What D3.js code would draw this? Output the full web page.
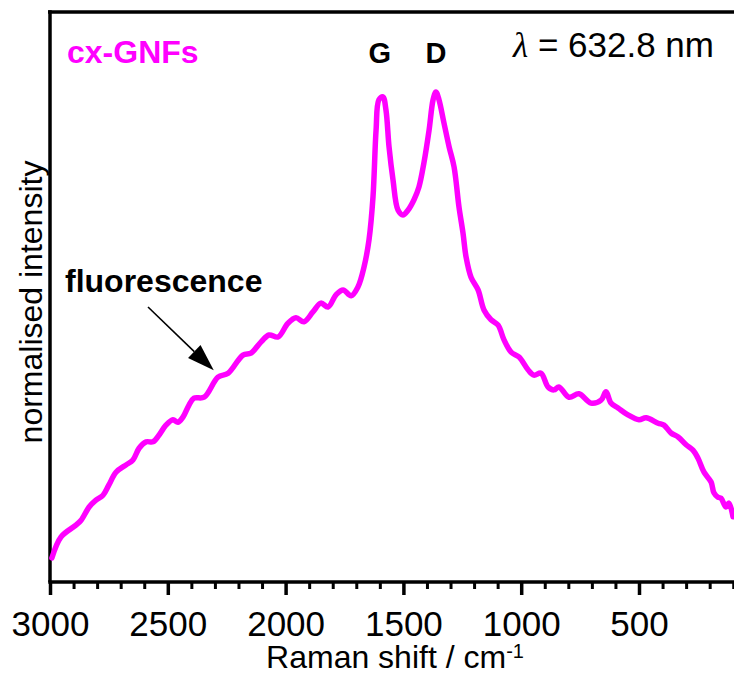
<!DOCTYPE html>
<html>
<head>
<meta charset="utf-8">
<script src="https://cdn.jsdelivr.net/npm/d3@7"></script>
<style>
  body { margin: 0; background: #fff; }
  svg { display: block; }
  text { font-family: "Liberation Sans", Arial, sans-serif; fill: #000; }
</style>
</head>
<body>
<svg id="chart" width="734" height="675"></svg>
<script>
// Raman spectrum of cx-GNFs (632.8 nm excitation), normalised intensity
const wavenumber = [
  2992, 2953, 2890, 2868, 2834, 2805, 2775, 2750, 2720, 2677,
  2648, 2622, 2592, 2563, 2537, 2508, 2478, 2457, 2435, 2410,
  2389, 2346, 2287, 2244, 2181, 2147, 2104, 2070, 2032, 1990,
  1956, 1922, 1884, 1850, 1820, 1786, 1756, 1722, 1693, 1667,
  1646, 1629, 1616, 1604, 1587, 1574, 1561, 1544, 1523, 1502,
  1480, 1455, 1434, 1413, 1391, 1374, 1362, 1349, 1328, 1306,
  1285, 1264, 1247, 1234, 1213, 1183, 1158, 1128, 1098, 1073,
  1043, 1009, 971, 946, 916, 886, 861, 840, 797, 755,
  704, 661, 640, 619, 589, 547, 500, 470, 419, 394,
  364, 334, 300, 271, 250, 224, 194, 182, 165, 152,
  131, 118, 101
];
const intensity = [
  0.045, 0.088, 0.112, 0.122, 0.149, 0.163, 0.173, 0.194, 0.220, 0.235,
  0.245, 0.269, 0.282, 0.282, 0.296, 0.316, 0.327, 0.322, 0.333, 0.357,
  0.371, 0.373, 0.414, 0.422, 0.459, 0.463, 0.486, 0.500, 0.496, 0.524,
  0.535, 0.527, 0.547, 0.565, 0.557, 0.582, 0.592, 0.580, 0.598, 0.639,
  0.694, 0.782, 0.918, 0.980, 0.986, 0.959, 0.884, 0.816, 0.755, 0.745,
  0.755, 0.776, 0.802, 0.851, 0.918, 0.980, 0.996, 0.980, 0.933, 0.884,
  0.843, 0.761, 0.708, 0.659, 0.618, 0.592, 0.551, 0.531, 0.520, 0.490,
  0.465, 0.455, 0.429, 0.418, 0.422, 0.394, 0.388, 0.394, 0.373, 0.380,
  0.361, 0.367, 0.384, 0.361, 0.351, 0.337, 0.327, 0.331, 0.320, 0.316,
  0.300, 0.292, 0.276, 0.265, 0.249, 0.220, 0.200, 0.178, 0.169, 0.167,
  0.149, 0.157, 0.129
];

const majorTicks = [3000, 2500, 2000, 1500, 1000, 500];
const minorTicks = d3.range(2900, 99, -100).filter(v => v % 500 !== 0);

const peakNames = ["G", "D"];
const peakShifts = [1600, 1362];

// arrow pointing at the fluorescence background: [shift, intensity]
const arrowFrom = [2584, 0.557];
const arrowTo = [2305, 0.428];

const svg = d3.select("#chart");
const W = 734, H = 675;
const plotLeft = 50, plotTop = 12, plotBottom = 582;

const x = d3.scaleLinear().domain([3000, 90]).range([plotLeft, plotLeft + 2910 * 0.2356]);
const y = d3.scaleLinear().domain([-0.004, 1.159]).range([plotBottom, plotTop]);

// frame: top and left lines
svg.append("line")
  .attr("x1", plotLeft - 2).attr("x2", W).attr("y1", plotTop).attr("y2", plotTop)
  .attr("stroke", "#000").attr("stroke-width", 3.5);
svg.append("line")
  .attr("x1", plotLeft).attr("x2", plotLeft).attr("y1", plotTop - 1.75).attr("y2", plotBottom)
  .attr("stroke", "#000").attr("stroke-width", 3.5);

// bottom axis, minor ticks
const minorAxis = d3.axisBottom(x).tickValues(minorTicks).tickSize(7).tickFormat("").tickSizeOuter(0);
const gMinor = svg.append("g").attr("transform", `translate(0,${plotBottom})`).call(minorAxis);
gMinor.select(".domain").remove();
gMinor.selectAll(".tick line").attr("stroke", "#000").attr("stroke-width", 3);

// bottom axis, major ticks and labels
const majorAxis = d3.axisBottom(x).tickValues(majorTicks).tickSize(13).tickSizeOuter(0).tickFormat(d3.format("d"));
const gMajor = svg.append("g").attr("transform", `translate(0,${plotBottom})`).call(majorAxis);
gMajor.select(".domain").remove();
gMajor.selectAll(".tick line").attr("stroke", "#000").attr("stroke-width", 3.5);
gMajor.selectAll(".tick text")
  .attr("y", 54).attr("dy", 0)
  .attr("font-size", 35)
  .attr("font-family", "Liberation Sans, Arial, sans-serif")
  .attr("fill", "#000");

svg.append("line")
  .attr("x1", plotLeft - 1.75).attr("x2", W).attr("y1", plotBottom).attr("y2", plotBottom)
  .attr("stroke", "#000").attr("stroke-width", 3.5);

// spectrum
const line = d3.line()
  .x((d, i) => x(wavenumber[i]))
  .y((d, i) => y(intensity[i]))
  .curve(d3.curveCatmullRom.alpha(0.5));

svg.append("path")
  .datum(intensity)
  .attr("d", line)
  .attr("fill", "none")
  .attr("stroke", "#ff00ff")
  .attr("stroke-width", 5.5)
  .attr("stroke-linejoin", "round")
  .attr("stroke-linecap", "round");

// axis titles
const xt = svg.append("text")
  .attr("x", 395).attr("y", 668)
  .attr("text-anchor", "middle")
  .attr("font-size", 32);
xt.append("tspan").text("Raman shift / cm");
xt.append("tspan").attr("dy", -10).attr("font-size", 20).text("-1");

svg.append("text")
  .attr("transform", "rotate(-90)")
  .attr("x", -302).attr("y", 42)
  .attr("text-anchor", "middle")
  .attr("font-size", 32)
  .text("normalised intensity");

// sample label
svg.append("text")
  .attr("x", 67).attr("y", 63)
  .attr("font-size", 32).attr("font-weight", "bold")
  .style("fill", "#ff00ff")
  .text("cx-GNFs");

// peak labels
svg.selectAll("text.peak")
  .data(peakNames)
  .enter().append("text")
  .attr("class", "peak")
  .attr("x", (d, i) => x(peakShifts[i]))
  .attr("y", 63)
  .attr("text-anchor", "middle")
  .attr("font-size", 29).attr("font-weight", "bold")
  .text(d => d);

// excitation wavelength
const lam = svg.append("text").attr("x", 513).attr("y", 57).attr("font-size", 35);
lam.append("tspan").attr("font-family", "Liberation Serif, serif").attr("font-style", "italic").text("λ");
lam.append("tspan").text(" = 632.8 nm");

// fluorescence annotation
svg.append("text")
  .attr("x", 65).attr("y", 292)
  .attr("font-size", 32).attr("font-weight", "bold")
  .text("fluorescence");

const ax1 = x(arrowFrom[0]), ay1 = y(arrowFrom[1]);
const ax2 = x(arrowTo[0]), ay2 = y(arrowTo[1]);
const ang = Math.atan2(ay2 - ay1, ax2 - ax1);
const headLen = 27, headHalf = 9;
const bx = ax2 - headLen * Math.cos(ang), by = ay2 - headLen * Math.sin(ang);
svg.append("line")
  .attr("x1", ax1).attr("y1", ay1).attr("x2", bx).attr("y2", by)
  .attr("stroke", "#000").attr("stroke-width", 1.6);
svg.append("path")
  .attr("d", `M${ax2},${ay2}L${bx + headHalf * Math.sin(ang)},${by - headHalf * Math.cos(ang)}L${bx - headHalf * Math.sin(ang)},${by + headHalf * Math.cos(ang)}Z`)
  .attr("fill", "#000");
</script>
</body>
</html>
